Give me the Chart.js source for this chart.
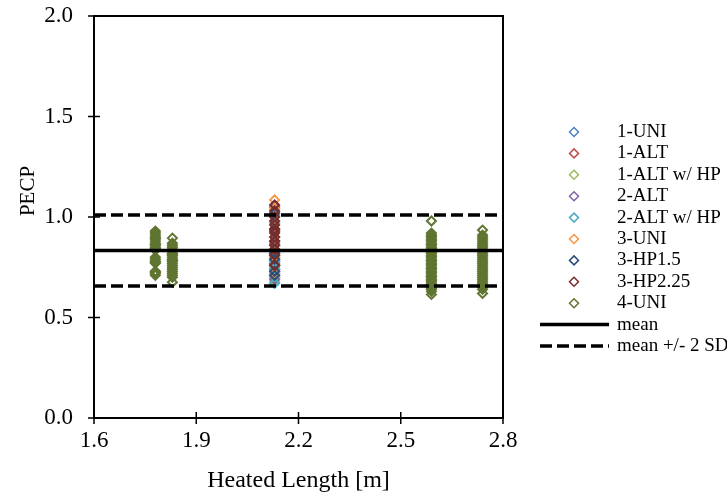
<!DOCTYPE html>
<html>
<head>
<meta charset="utf-8">
<title>PECP vs Heated Length</title>
<script src="https://cdn.jsdelivr.net/npm/chart.js@4"></script>
<style>
    body { margin: 0; background: #fff; }
    #wrap { width: 727px; height: 502px; }
</style>
</head>
<body>
<div id="wrap"><canvas id="pecpChart" width="727" height="502"></canvas></div>
<script>
// axis ticks
const xTicks = [1.6, 1.9, 2.2, 2.5, 2.8];
const yTicks = [0.0, 0.5, 1.0, 1.5, 2.0];

// heated lengths of the test sections [m]
const lengths = [1.78, 1.83, 2.13, 2.59, 2.74];

// series shown in the legend
const seriesNames = ['1-UNI', '1-ALT', '1-ALT w/ HP', '2-ALT', '2-ALT w/ HP', '3-UNI', '3-HP1.5', '3-HP2.25', '4-UNI'];
const seriesColors = ['#4f81bd', '#c0504d', '#9bbb59', '#8064a2', '#4bacc6', '#f79646', '#2c4d75', '#772c2a', '#5f7530'];

// PECP values, 2.13 m section
const uni1 = [0.70, 0.72, 0.74, 0.76, 0.79, 0.81, 0.84, 0.87];
const alt1 = [0.78, 0.83, 0.86, 0.90, 0.94];
const alt1HP = [0.68, 0.70, 0.75, 0.80];
const alt2 = [0.69, 0.73, 0.77, 0.82, 1.05];
const alt2HP = [0.67, 0.71, 0.74, 0.78, 0.97, 1.01];
const uni3 = [0.72, 0.76, 0.80, 0.83, 0.86, 0.93, 1.04, 1.085];
const hp15 = [0.71, 0.73, 0.76, 0.79, 0.82, 0.88, 0.93, 1.02];
const hp225 = [0.76, 0.81, 0.84, 0.86, 0.88, 0.90, 0.92, 0.94, 0.96, 0.98, 1.00, 1.03, 1.06];

// PECP values, 4-UNI at its four lengths
const uni4At178 = [0.93, 0.92, 0.91, 0.90, 0.895, 0.89, 0.88, 0.87, 0.865, 0.86, 0.85, 0.845, 0.84, 0.835,
    0.80, 0.79, 0.78, 0.775, 0.77, 0.73, 0.725, 0.72, 0.71];
const uni4At183 = [0.895, 0.87, 0.86, 0.85, 0.84, 0.83, 0.82, 0.815, 0.81, 0.80, 0.79, 0.785, 0.78, 0.77,
    0.76, 0.75, 0.74, 0.73, 0.72, 0.71, 0.70, 0.675];
const uni4At259 = [0.98, 0.92, 0.91, 0.905, 0.90, 0.89, 0.885, 0.88, 0.87, 0.865, 0.86, 0.85, 0.845, 0.84,
    0.83, 0.825, 0.82, 0.81, 0.805, 0.80, 0.79, 0.785, 0.78, 0.77, 0.765, 0.76, 0.75, 0.745, 0.74, 0.73,
    0.725, 0.72, 0.71, 0.705, 0.70, 0.69, 0.685, 0.68, 0.67, 0.665, 0.66, 0.65, 0.645, 0.64, 0.63, 0.615];
const uni4At274 = [0.935, 0.91, 0.90, 0.89, 0.88, 0.87, 0.86, 0.85, 0.84, 0.83, 0.82, 0.81, 0.80, 0.79,
    0.78, 0.77, 0.76, 0.75, 0.74, 0.73, 0.72, 0.71, 0.70, 0.69, 0.68, 0.67, 0.66, 0.65, 0.64, 0.62];

// mean and +/- 2 SD bands across the whole axis
const bandX = [1.6, 2.8];
const meanY = [0.833, 0.833];
const upperY = [1.01, 1.01];
const lowerY = [0.657, 0.657];

const FONT = '"Liberation Serif", "Times New Roman", serif';

function toPoints(x, values) {
    return values.map(v => ({ x: x, y: v }));
}

function bandPoints(ys) {
    return bandX.map((x, i) => ({ x: x, y: ys[i] }));
}

function markerSeries(i, points) {
    return {
        type: 'scatter',
        label: seriesNames[i],
        data: points,
        pointStyle: 'rectRot',
        pointRadius: 4.5,
        pointBorderWidth: 2,
        borderColor: seriesColors[i],
        backgroundColor: 'rgba(0,0,0,0)',
        order: 20 - i
    };
}

function bandSeries(label, ys, dash, order) {
    return {
        type: 'line',
        label: label,
        data: bandPoints(ys),
        borderColor: '#000',
        borderWidth: 3.5,
        borderDash: dash,
        pointRadius: 0,
        fill: false,
        order: order
    };
}

// frame, crossing tick marks, the PECP title and the legend on the right
const framePlugin = {
    id: 'frame',
    afterDraw(chart) {
        const ctx = chart.ctx;
        const area = chart.chartArea;
        const xs = chart.scales.x;
        const ys = chart.scales.y;
        ctx.save();
        ctx.strokeStyle = '#000';
        ctx.lineWidth = 2;
        ctx.strokeRect(area.left, area.top, area.right - area.left, area.bottom - area.top);

        ctx.lineWidth = 1.5;
        ctx.beginPath();
        xTicks.forEach(v => {
            const px = xs.getPixelForValue(v);
            ctx.moveTo(px, area.bottom - 6);
            ctx.lineTo(px, area.bottom + 6);
        });
        yTicks.forEach(v => {
            const py = ys.getPixelForValue(v);
            ctx.moveTo(area.left - 6, py);
            ctx.lineTo(area.left + 6, py);
        });
        ctx.stroke();

        // y axis title sits a little above the axis middle
        ctx.save();
        ctx.translate(28, 191);
        ctx.rotate(-Math.PI / 2);
        ctx.font = '21px ' + FONT;
        ctx.fillStyle = '#000';
        ctx.textAlign = 'center';
        ctx.textBaseline = 'middle';
        ctx.fillText('PECP', 0, 0);
        ctx.restore();

        const markX = 574, textX = 617, firstRow = 132, rowGap = 21.4, r = 4.5;
        ctx.font = '19px ' + FONT;
        ctx.fillStyle = '#000';
        ctx.textBaseline = 'middle';
        ctx.textAlign = 'left';
        seriesNames.forEach((name, i) => {
            const y = firstRow + i * rowGap;
            ctx.strokeStyle = seriesColors[i];
            ctx.lineWidth = 1.5;
            ctx.beginPath();
            ctx.moveTo(markX, y - r);
            ctx.lineTo(markX + r, y);
            ctx.lineTo(markX, y + r);
            ctx.lineTo(markX - r, y);
            ctx.closePath();
            ctx.stroke();
            ctx.fillText(name, textX, y);
        });

        const lines = [['mean', []], ['mean +/- 2 SD', [12, 5]]];
        lines.forEach((item, k) => {
            const y = firstRow + (seriesNames.length + k) * rowGap;
            ctx.strokeStyle = '#000';
            ctx.lineWidth = 3.5;
            ctx.setLineDash(item[1]);
            ctx.beginPath();
            ctx.moveTo(540, y);
            ctx.lineTo(609, y);
            ctx.stroke();
            ctx.setLineDash([]);
            ctx.fillText(item[0], textX, y);
        });
        ctx.restore();
    }
};

document.addEventListener('DOMContentLoaded', function () {
    const datasets = [
        markerSeries(0, toPoints(lengths[2], uni1)),
        markerSeries(1, toPoints(lengths[2], alt1)),
        markerSeries(2, toPoints(lengths[2], alt1HP)),
        markerSeries(3, toPoints(lengths[2], alt2)),
        markerSeries(4, toPoints(lengths[2], alt2HP)),
        markerSeries(5, toPoints(lengths[2], uni3)),
        markerSeries(6, toPoints(lengths[2], hp15)),
        markerSeries(7, toPoints(lengths[2], hp225)),
        markerSeries(8, [].concat(
            toPoints(lengths[0], uni4At178),
            toPoints(lengths[1], uni4At183),
            toPoints(lengths[3], uni4At259),
            toPoints(lengths[4], uni4At274)
        )),
        bandSeries('mean', meanY, [], 2),
        bandSeries('mean +/- 2 SD', upperY, [12, 5], 1),
        bandSeries('mean - 2 SD', lowerY, [12, 5], 0)
    ];

    new Chart(document.getElementById('pecpChart'), {
        type: 'scatter',
        data: { datasets: datasets },
        options: {
            responsive: false,
            animation: false,
            layout: { padding: { left: 0, top: 16, right: 224, bottom: 0 } },
            plugins: {
                legend: { display: false },
                tooltip: { enabled: false }
            },
            scales: {
                x: {
                    type: 'linear',
                    min: 1.6,
                    max: 2.8,
                    afterBuildTicks: scale => { scale.ticks = xTicks.map(v => ({ value: v })); },
                    afterFit: scale => { scale.height = 84; },
                    grid: { display: false, drawTicks: true, tickLength: 9 },
                    border: { display: false },
                    ticks: {
                        padding: 0,
                        color: '#000',
                        font: { family: FONT, size: 23 },
                        callback: v => v.toFixed(1)
                    },
                    title: {
                        display: true,
                        text: 'Heated Length [m]',
                        color: '#000',
                        font: { family: FONT, size: 24 },
                        padding: { top: 4, bottom: 7 }
                    }
                },
                y: {
                    type: 'linear',
                    min: 0,
                    max: 2,
                    afterBuildTicks: scale => { scale.ticks = yTicks.map(v => ({ value: v })); },
                    afterFit: scale => { scale.width = 94; },
                    grid: { display: false, drawTicks: true, tickLength: 21 },
                    border: { display: false },
                    ticks: {
                        padding: 0,
                        color: '#000',
                        font: { family: FONT, size: 23 },
                        callback: v => v.toFixed(1)
                    },
                    title: { display: false }
                }
            }
        },
        plugins: [framePlugin]
    });
});
</script>
</body>
</html>
